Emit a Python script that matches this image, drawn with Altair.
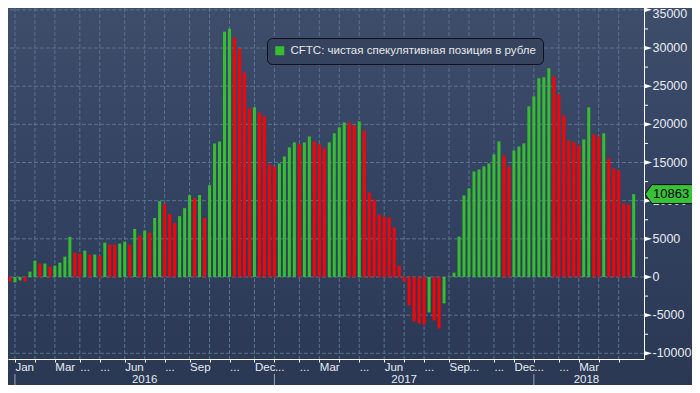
import json
import altair as alt
import pandas as pd

SERIES_NAME = "CFTC: чистая спекулятивная позиция в рубле"
FIRST_WEEK = "2015-12-29"  # weekly (Tuesday) observations

VALUES = [
    -570, -700, -440, -570, 700, 2120, 1750, 1760, 1360, 1490,
    1880, 2670, 5260, 3190, 3060, 3460, 2930, 2950, 2800, 4510,
    4250, 4230, 4380, 4640, 4250, 6300, 5430, 6080, 5820, 7730,
    9940, 9550, 8250, 7070, 7980, 9020, 10720, 10330, 10740, 7730,
    12020, 17490, 17750, 32140, 32530, 31350, 29910, 26770, 22100, 22230,
    21530, 21050, 14750, 14490, 14880, 15800, 16980, 17640, 17370, 17640,
    18420, 17770, 17370, 16850, 17640, 18820, 19610, 20260, 20240, 19870,
    20390, 19210, 11070, 10150, 8180, 7920, 7790, 6480, 1490, -570,
    -3720, -5820, -6080, -6260, -4640, -5690, -6740, -3460, 80, 570,
    5300, 10680, 11600, 13830, 14090, 14490, 14880, 16060, 17770, 15930,
    14490, 16590, 17110, 17510, 22360, 23680, 26040, 26170, 27350, 26300,
    23940, 21180, 17900, 17640, 17240, 18030, 22230, 18690, 18420, 18820,
    15540, 14220, 13960, 9630, 9500, 10863,
]
# g = weekly rise (green bar), r = weekly fall (red bar)
DIRECTION_CODES = (
    "rggrggrgrg"
    "gggrrgrgrg"
    "rrggrgrgrg"
    "grrrgggrgr"
    "gggggrrrrg"
    "rrrrggggrg"
    "grrrggggrr"
    "grrrrrrrrr"
    "rrrrgrrggg"
    "gggggggggr"
    "rggggggggr"
    "rrrrrggrrg"
    "rrrrrg"
)
DIRECTION = ["up" if c == "g" else "down" for c in DIRECTION_CODES]

TICK_DATES = [
    "2016-01-05", "2016-02-02", "2016-03-01", "2016-04-05", "2016-05-03", "2016-06-07",
    "2016-07-05", "2016-08-02", "2016-09-06", "2016-10-04", "2016-11-01", "2016-12-06",
    "2017-01-03", "2017-02-07", "2017-03-07", "2017-04-04", "2017-05-02", "2017-06-06",
    "2017-07-04", "2017-08-01", "2017-09-05", "2017-10-03", "2017-11-07", "2017-12-05",
    "2018-01-02", "2018-02-06", "2018-03-06", "2018-04-03", "2018-05-01",
]
D = "\u00a0..."  # truncated month label as drawn by the terminal
TICK_LABELS = [
    "Jan", "", "Mar", D, D, "Jun", "", D, "Sep", "", D, "Dec",
    D, D, "Mar", "", D, "Jun", "", D, "Sep", D, D, "Dec",
    D, D, "Mar", "", "",
]
YEAR_LABELS = ["2016", "2017", "2018"]
YEAR_STARTS = ["2016-01-05", "2017-01-03", "2018-01-02"]
Y_TICKS = [-10000, -5000, 0, 5000, 10000, 15000, 20000, 25000, 30000, 35000]
Y_MINOR = [-7500, -2500, 2500, 7500, 12500, 17500, 22500, 27500, 32500]
X_DOMAIN = ["2016-01-02T06:17:00", "2018-05-29T12:00:00"]
Y_DOMAIN = [-10743, 35245]


def ms(s):
    return int(pd.Timestamp(s, tz="UTC").value // 10**6)


W, H = 636, 351
PAD_R, PAD_B = 48, 26
FONT = "Liberation Sans, Arial, sans-serif"
FS_Y = 12.5
FS_X = 11.5
GREEN = "#36bd30"
RED = "#ff0000"
GRID = "#5a7390"
LABEL = "#e6ebf2"
TAG_GREEN = "#38c23a"

dates = pd.date_range(FIRST_WEEK, periods=len(VALUES), freq="7D", tz="UTC")
bars_df = pd.DataFrame({
    "t": [int(d.value // 10**6) for d in dates],
    "v": VALUES,
    "dir": DIRECTION,
})
tick_ms = [ms(s) for s in TICK_DATES]
x_dom = [ms(X_DOMAIN[0]), ms(X_DOMAIN[1])]

xscale = alt.Scale(type="utc", domain=x_dom, nice=False)
yscale = alt.Scale(domain=Y_DOMAIN, nice=False, zero=False)

XAXIS = alt.Axis(
    values=tick_ms,
    labelExpr=(
        f"{json.dumps(TICK_LABELS)}"
        f"[indexof({json.dumps(tick_ms)}, toNumber(datum.value))]"
    ),
    title=None, grid=False, domainColor="white", domainWidth=1,
    tickColor="white", tickSize=3, tickWidth=1,
    labelAlign="left", labelBaseline="alphabetic", labelPadding=8.5,
    labelFont=FONT, labelFontSize=FS_X, labelColor=LABEL,
    labelOverlap=False, labelFlush=False, zindex=1,
)
YAXIS = alt.Axis(
    orient="right", values=Y_TICKS, labels=False,
    title=None, grid=False, ticks=False, domainColor="white", domainWidth=1,
    zindex=1,
)

X = lambda f: alt.X(f, type="temporal", scale=xscale, axis=XAXIS)
Y = lambda f: alt.Y(f, type="quantitative", scale=yscale, axis=YAXIS)

bg = alt.Chart(pd.DataFrame({"a": [0]})).mark_rect(
    fill=alt.Gradient(
        gradient="linear", x1=0, y1=0, x2=0, y2=1,
        stops=[
            alt.GradientStop(offset=0, color="#3e4d6a"),
            alt.GradientStop(offset=0.5, color="#334261"),
            alt.GradientStop(offset=1, color="#2a3853"),
        ],
    )
).encode(x=alt.value(0), x2=alt.value(W + PAD_R), y=alt.value(0), y2=alt.value(H + PAD_B))

xgrid = alt.Chart(pd.DataFrame({"t": tick_ms})).mark_rule(
    color=GRID, strokeDash=[4, 2], strokeWidth=1
).encode(x=X("t"))

ygrid = alt.Chart(pd.DataFrame({"v": Y_TICKS})).mark_rule(
    color=GRID, strokeDash=[4, 2], strokeWidth=1
).encode(y=Y("v"))

bars = alt.Chart(bars_df).mark_bar(size=3, clip=True).encode(
    x=X("t"),
    y=Y("v"),
    color=alt.Color(
        "dir:N",
        scale=alt.Scale(domain=["up", "down"], range=[GREEN, RED]),
        legend=alt.Legend(
            values=["up"], labelExpr=json.dumps(SERIES_NAME), title=None,
            orient="none", legendX=259, legendY=30, direction="vertical",
            symbolType="square", symbolSize=81, symbolStrokeWidth=0,
            labelFont=FONT, labelFontSize=11.5, labelColor="#e8e8e8",
            labelOffset=5, labelLimit=400, padding=7,
            fillColor="#35435f", strokeColor="#0d121c", cornerRadius=5,
        ),
    ),
)

minor = alt.Chart(pd.DataFrame({"v": Y_MINOR})).mark_rule(color="white").encode(
    y=Y("v"), x=alt.value(W), x2=alt.value(W + 4)
)

tri = alt.Chart(pd.DataFrame({"v": Y_TICKS})).mark_point(
    shape="M-1,-0.6L1,0L-1,0.6Z", size=64, filled=True, fill="white",
    strokeWidth=0, opacity=1,
).encode(y=Y("v"), x=alt.value(W + 4))

ylabels_df = pd.DataFrame({"v": Y_TICKS, "label": [str(v) for v in Y_TICKS]})
ylabels = alt.Chart(ylabels_df).mark_text(
    align="left", baseline="middle", font=FONT, fontSize=FS_Y, color=LABEL,
    dy=alt.expr(f"datum.v >= {max(Y_TICKS)} ? 4.5 : 0"),
).encode(y=Y("v"), x=alt.value(W + 8.5), text="label:N")

tag_df = pd.DataFrame({"v": [VALUES[-1]], "label": [str(VALUES[-1])]})
tag = alt.Chart(tag_df).mark_point(
    shape="M0,0L0.2917,-0.3958L2.5,-0.3958L2.5,0.3958L0.2917,0.3958Z",
    size=2304, filled=True, fill=TAG_GREEN, stroke="#0a0a0a", strokeWidth=1, opacity=1,
).encode(y=Y("v"), x=alt.value(W + 1))
tag_text = alt.Chart(tag_df).mark_text(
    align="left", baseline="middle", font=FONT, fontSize=13, color="black"
).encode(y=Y("v"), x=alt.value(W + 9), text="label:N")

year_starts_ms = [ms(s) for s in YEAR_STARTS]
bounds = year_starts_ms + [x_dom[1]]
year_df = pd.DataFrame({
    "t": [(bounds[i] + bounds[i + 1]) // 2 for i in range(len(YEAR_LABELS))],
    "y": YEAR_LABELS,
})
year_rules = alt.Chart(pd.DataFrame({"t": year_starts_ms})).mark_rule(
    color="#9aa3b0", strokeWidth=1
).encode(x=X("t"), y=alt.value(H + 15), y2=alt.value(H + PAD_B))
year_text = alt.Chart(year_df).mark_text(
    font=FONT, fontSize=FS_X, color=LABEL, baseline="alphabetic", align="center"
).encode(x=X("t"), y=alt.value(H + 23.5), text="y:N")

chart = alt.layer(
    bg, xgrid, ygrid, bars, minor, tri, ylabels, tag, tag_text, year_rules, year_text
).properties(
    width=W, height=H,
    padding={"left": 0, "top": 0, "right": PAD_R, "bottom": PAD_B},
    autosize=alt.AutoSizeParams(type="none"),
    background="#2a3853",
).configure_view(strokeWidth=0)

chart.save("out.html", embed_options={"renderer": "svg", "actions": False})
